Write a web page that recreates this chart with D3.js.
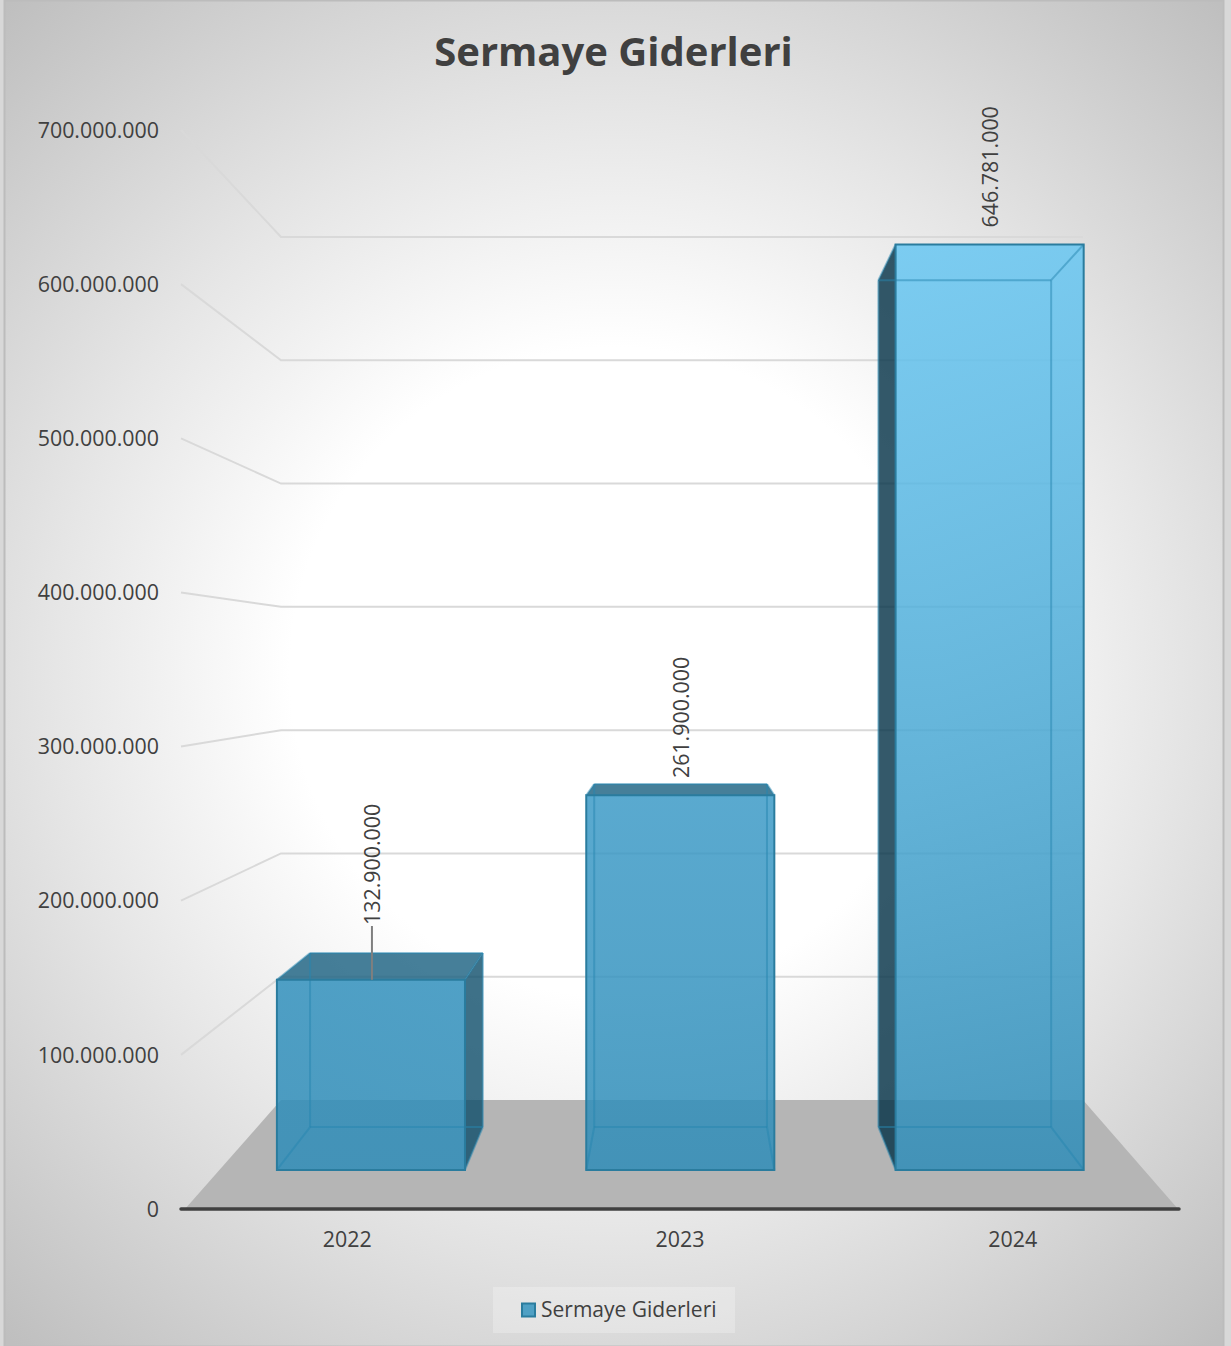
<!DOCTYPE html>
<html>
<head>
<meta charset="utf-8">
<script src="https://cdn.jsdelivr.net/npm/d3@7"></script>
<style>
    html, body { margin: 0; padding: 0; background: #d8d8d8; }
    svg { display: block; }
    text { font-family: "Open Sans", sans-serif; fill: #404040; }
</style>
</head>
<body>
<div class="container"></div>
<script>
var categories = ['2022', '2023', '2024'];
var values = [132900000, 261900000, 646781000];
var tickValues = [0, 100000000, 200000000, 300000000, 400000000, 500000000, 600000000, 700000000];
var seriesName = 'Sermaye Giderleri';

const WIDTH = 1231;
const HEIGHT = 1346;
const FRONT_DEPTH = 0.358;
const BACK_DEPTH = 0.752;
const FRONT_ALPHA = 0.84;

var turkish = d3.formatLocale({decimal: ',', thousands: '.', grouping: [3], currency: ['', '']});
var formatNumber = turkish.format(',d');

var svg = d3.select('.container').append('svg')
    .attr('width', WIDTH)
    .attr('height', HEIGHT);

var defs = svg.append('defs');

var bg = defs.append('radialGradient')
    .attr('id', 'bg')
    .attr('gradientUnits', 'userSpaceOnUse')
    .attr('cx', 614).attr('cy', 672).attr('r', 900);
[[0, '#ffffff'], [0.36, '#ffffff'], [0.62, '#e6e6e6'], [1, '#bfbfbf']].forEach(function (s) {
    bg.append('stop').attr('offset', s[0]).attr('stop-color', s[1]);
});

// taller bars get a lighter top
var topColor = d3.scaleLinear()
    .domain([130000000, 260000000, 647000000])
    .range(['#2f8fbc', '#3a99c6', '#66c6f2']);

svg.append('rect')
    .attr('x', 4.5).attr('y', 0.5)
    .attr('width', 1219).attr('height', HEIGHT)
    .attr('fill', 'url(#bg)')
    .attr('stroke', '#bcbcbc')
    .attr('stroke-width', 2);

// scales for the two planes of the box, a point at depth t sits between them
var yFront = d3.scaleLinear().domain([0, 700000000]).range([1209, 130]);
var yBack = d3.scaleLinear().domain([0, 700000000]).range([1100, 237]);
var leftEdge = d3.scaleLinear().domain([0, 1]).range([185, 281]);
var rightEdge = d3.scaleLinear().domain([0, 1]).range([1178, 1083]);
var xBand = d3.scaleBand().domain(categories).range([0, 0.997]).paddingInner(0.392).paddingOuter(0.186);
var xLabels = d3.scaleBand().domain(categories).range([181, 1179]);

var project = function (u, t, value) {
    var x = leftEdge(t) + (rightEdge(t) - leftEdge(t)) * u;
    var y = yFront(value) + (yBack(value) - yFront(value)) * t;
    return [x, y];
};

// floor
svg.append('path')
    .attr('d', d3.line()([project(0, 0, 0), project(0, 1, 0), project(1, 1, 0), project(1, 0, 0)]) + 'Z')
    .attr('fill', '#b5b5b5');

// grid lines, along the side wall then along the back wall
svg.append('g').selectAll('path')
    .data(tickValues.slice(1))
    .enter().append('path')
    .attr('d', function (v) {
        return d3.line()([[181, yFront(v)], [leftEdge(1), yBack(v)], [rightEdge(1), yBack(v)]]);
    })
    .attr('fill', 'none')
    .attr('stroke', '#d9d9d9')
    .attr('stroke-width', 2);

// corners of a bar: first letter front/back, second left/right, third bottom/top
var barCorners = function (category, value) {
    var u0 = xBand(category);
    var u1 = u0 + xBand.bandwidth();
    return {
        flb: project(u0, FRONT_DEPTH, 0), frb: project(u1, FRONT_DEPTH, 0),
        flt: project(u0, FRONT_DEPTH, value), frt: project(u1, FRONT_DEPTH, value),
        blb: project(u0, BACK_DEPTH, 0), brb: project(u1, BACK_DEPTH, 0),
        blt: project(u0, BACK_DEPTH, value), brt: project(u1, BACK_DEPTH, value)
    };
};

var poly = function (points) {
    return d3.line()(points) + 'Z';
};

categories.forEach(function (category, i) {
    var c = barCorners(category, values[i]);
    var maskId = 'noFront' + i;
    var fillId = 'barFill' + i;

    var fill = defs.append('linearGradient')
        .attr('id', fillId)
        .attr('gradientUnits', 'userSpaceOnUse')
        .attr('x1', 0).attr('y1', c.flt[1]).attr('x2', 0).attr('y2', c.flb[1]);
    fill.append('stop').attr('offset', 0).attr('stop-color', topColor(values[i]));
    fill.append('stop').attr('offset', 1).attr('stop-color', '#2d8cb8');

    var mask = defs.append('mask')
        .attr('id', maskId)
        .attr('maskUnits', 'userSpaceOnUse')
        .attr('x', 0).attr('y', 0).attr('width', WIDTH).attr('height', HEIGHT);
    mask.append('rect').attr('width', WIDTH).attr('height', HEIGHT).attr('fill', '#fff');
    mask.append('path').attr('d', poly([c.flb, c.frb, c.frt, c.flt])).attr('fill', '#000');

    var bar = svg.append('g');
    var sides = bar.append('g').attr('mask', 'url(#' + maskId + ')');

    // only the faces turned towards the viewer, and they only show past the front face
    if (c.blb[0] < c.flb[0]) {
        sides.append('path').attr('d', poly([c.flb, c.blb, c.blt, c.flt])).attr('fill', '#012f45').attr('fill-opacity', 0.8);
    }
    if (c.brb[0] > c.frb[0]) {
        sides.append('path').attr('d', poly([c.frb, c.brb, c.brt, c.frt])).attr('fill', '#0e4d6a').attr('fill-opacity', 0.8);
    }
    if (c.blt[1] < c.flt[1]) {
        sides.append('path').attr('d', poly([c.flt, c.frt, c.brt, c.blt])).attr('fill', '#185f7f').attr('fill-opacity', 0.8);
    }

    bar.append('path')
        .attr('d', poly([c.flb, c.frb, c.frt, c.flt]))
        .attr('fill', 'url(#' + fillId + ')')
        .attr('fill-opacity', FRONT_ALPHA);

    // inner edges seen through the front
    var inner = [[c.blb, c.brb], [c.blb, c.blt], [c.brb, c.brt], [c.blt, c.brt], [c.flb, c.blb], [c.frb, c.brb], [c.flt, c.blt], [c.frt, c.brt]];
    bar.selectAll('line.inner')
        .data(inner)
        .enter().append('line')
        .attr('class', 'inner')
        .attr('x1', function (d) { return d[0][0]; })
        .attr('y1', function (d) { return d[0][1]; })
        .attr('x2', function (d) { return d[1][0]; })
        .attr('y2', function (d) { return d[1][1]; })
        .attr('stroke', '#2585b0')
        .attr('stroke-opacity', 0.5)
        .attr('stroke-width', 2);

    bar.append('path')
        .attr('d', poly([c.flb, c.frb, c.frt, c.flt]))
        .attr('fill', 'none')
        .attr('stroke', '#2a7c9e')
        .attr('stroke-width', 2);
});

// value axis and category axis
var yAxis = svg.append('g')
    .attr('transform', 'translate(159,0.4)')
    .call(d3.axisLeft(yFront).tickValues(tickValues).tickSize(0).tickPadding(0).tickFormat(formatNumber));
yAxis.select('.domain').remove();

var xAxis = svg.append('g')
    .attr('transform', 'translate(0,1209)')
    .call(d3.axisBottom(xLabels).tickSize(0).tickPadding(23));
xAxis.select('.domain').remove();

svg.selectAll('.tick text')
    .style('font-family', '"Open Sans", sans-serif')
    .style('font-size', '21.4px')
    .style('fill', '#404040');

svg.append('line')
    .attr('x1', 181).attr('x2', 1179)
    .attr('y1', yFront(0)).attr('y2', yFront(0))
    .attr('stroke', '#404040')
    .attr('stroke-width', 3.5)
    .attr('stroke-linecap', 'round');

// data labels, the first one hangs on a leader line
var labelLift = [27, 6, 17];
categories.forEach(function (category, i) {
    var u = xBand(category) + xBand.bandwidth() / 2;
    var front = project(u, FRONT_DEPTH, values[i]);
    var back = project(u, BACK_DEPTH, values[i]);
    var topY = Math.min(front[1], back[1]) - labelLift[i];
    if (i === 0) {
        svg.append('line')
            .attr('x1', front[0] + 1).attr('x2', front[0] + 1)
            .attr('y1', front[1]).attr('y2', topY)
            .attr('stroke', '#7f7f7f')
            .attr('stroke-width', 2);
        topY -= 1;
    }
    svg.append('text')
        .attr('transform', 'translate(' + (front[0] + 1) + ',' + topY + ') rotate(-90)')
        .attr('dy', '0.36em')
        .style('font-size', '21.4px')
        .text(formatNumber(values[i]));
});

// title
svg.append('text')
    .attr('x', 613.5).attr('y', 66)
    .attr('text-anchor', 'middle')
    .style('font-size', '40px')
    .style('font-weight', 700)
    .text(seriesName);

// legend
var legend = svg.append('g');
legend.append('rect')
    .attr('x', 493).attr('y', 1287)
    .attr('width', 242).attr('height', 46)
    .attr('fill', '#ffffff')
    .attr('fill-opacity', 0.25);
legend.append('rect')
    .attr('x', 522).attr('y', 1303.5)
    .attr('width', 13).attr('height', 13)
    .attr('fill', '#4fa0c4')
    .attr('stroke', '#2a7c9e')
    .attr('stroke-width', 2);
legend.append('text')
    .attr('x', 541).attr('y', 1317)
    .style('font-size', '21px')
    .text(seriesName);
</script>
</body>
</html>
